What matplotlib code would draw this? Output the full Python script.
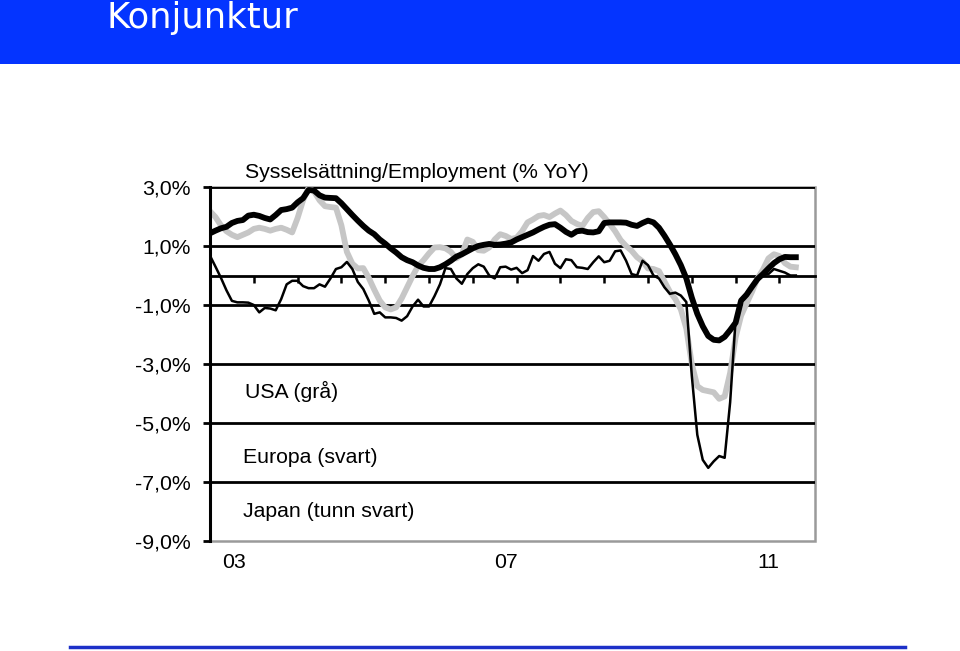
import matplotlib
matplotlib.use("Agg")
import matplotlib.pyplot as plt
import matplotlib.transforms as mtransforms
from matplotlib.patches import Rectangle

plt.rcParams['font.family'] = ['Liberation Sans', 'DejaVu Sans']

# monthly YoY employment growth, first point = start of 2003
europa = [1.43, 1.52, 1.60, 1.65, 1.78, 1.85, 1.88, 2.03, 2.06, 2.02,
          1.95, 1.90, 2.05, 2.22, 2.25, 2.30, 2.48, 2.62, 2.90, 2.88,
          2.72, 2.64, 2.63, 2.62, 2.45, 2.25, 2.05, 1.86, 1.68, 1.52,
          1.40, 1.22, 1.08, 0.92, 0.78, 0.62, 0.52, 0.45, 0.34, 0.26,
          0.22, 0.22, 0.28, 0.38, 0.50, 0.64, 0.72, 0.82, 0.92, 1.00,
          1.04, 1.07, 1.04, 1.05, 1.08, 1.12, 1.22, 1.30, 1.38, 1.46,
          1.56, 1.65, 1.72, 1.74, 1.62, 1.48, 1.38, 1.50, 1.52, 1.47,
          1.46, 1.50, 1.78, 1.80, 1.80, 1.80, 1.79, 1.72, 1.68, 1.78,
          1.86, 1.80, 1.62, 1.35, 1.05, 0.72, 0.35, -0.10, -0.75, -1.30,
          -1.72, -2.05, -2.18, -2.20, -2.08, -1.85, -1.60, -0.85, -0.65, -0.38,
          -0.12, 0.05, 0.24, 0.42, 0.55, 0.63, 0.62, 0.62]

usa = [2.18, 1.98, 1.70, 1.50, 1.38, 1.30, 1.38, 1.46, 1.58, 1.62,
       1.58, 1.52, 1.58, 1.62, 1.55, 1.46, 1.95, 2.55, 2.97, 2.85,
       2.55, 2.35, 2.32, 2.30, 1.70, 0.80, 0.40, 0.24, 0.25, -0.08,
       -0.48, -0.85, -1.08, -1.15, -1.08, -0.78, -0.40, -0.02, 0.32, 0.52,
       0.75, 0.95, 0.96, 0.92, 0.80, 0.58, 0.72, 1.22, 1.14, 0.86,
       0.84, 0.95, 1.22, 1.40, 1.34, 1.24, 1.28, 1.50, 1.80, 1.90,
       2.02, 2.05, 1.98, 2.10, 2.20, 2.05, 1.85, 1.75, 1.68, 1.95,
       2.15, 2.18, 1.98, 1.75, 1.50, 1.20, 1.00, 0.84, 0.62, 0.48,
       0.24, 0.22, 0.15, -0.20, -0.55, -0.80, -1.15, -1.80, -3.00, -3.75,
       -3.88, -3.92, -3.96, -4.18, -4.10, -3.30, -2.10, -1.36, -0.95, -0.55,
       -0.10, 0.20, 0.58, 0.72, 0.66, 0.42, 0.30, 0.28]

japan = [0.67, 0.30, -0.08, -0.50, -0.86, -0.91, -0.91, -0.92, -1.00, -1.25,
         -1.10, -1.12, -1.18, -0.80, -0.30, -0.18, -0.18, -0.36, -0.43, -0.43,
         -0.30, -0.38, -0.10, 0.22, 0.28, 0.46, 0.22, -0.22, -0.46, -0.85,
         -1.30, -1.25, -1.42, -1.42, -1.44, -1.53, -1.38, -1.05, -0.82, -1.05,
         -1.05, -0.70, -0.30, 0.25, 0.22, -0.10, -0.28, 0.05, 0.25, 0.38,
         0.30, 0.00, -0.10, 0.28, 0.30, 0.20, 0.26, 0.08, 0.18, 0.66,
         0.50, 0.73, 0.80, 0.40, 0.25, 0.55, 0.52, 0.28, 0.26, 0.22,
         0.45, 0.65, 0.45, 0.50, 0.82, 0.85, 0.50, 0.05, 0.00, 0.50,
         0.35, 0.00, -0.10, -0.40, -0.62, -0.58, -0.68, -0.90, -3.40, -5.40,
         -6.25, -6.52, -6.30, -6.12, -6.18, -4.30, -1.50, -0.90, -0.70, -0.42,
         -0.18, 0.02, 0.05, 0.22, 0.16, 0.10, 0.00, 0.00]

year_labels = ['03', '07', '11']
year_pos = [4.3, 54, 102]
y_ticks = [-9, -7, -5, -3, -1, 1, 3]

months = list(range(len(europa)))

fig = plt.figure(figsize=(9.6, 6.51), dpi=100)

# blue banner + bottom rule
fig.patches.append(Rectangle((0, 1 - 64 / 651), 1, 64 / 651, transform=fig.transFigure,
                             facecolor='#0434ff', edgecolor='none', zorder=0))
fig.add_artist(plt.Line2D([70 / 960, 905 / 960], [1 - 647 / 651] * 2, transform=fig.transFigure,
                          color='#1c30c8', lw=2.5))
fig.text(106 / 960, 1 - 28 / 651, 'Konjunktur', color='white', fontsize=25.5,
         family='DejaVu Sans', ha='left', va='baseline')

ax = fig.add_axes([210 / 960, 1 - 541 / 651, 605 / 960, 354 / 651])

for g in [3, 1, -1, -3, -5, -7]:
    ax.axhline(g, color='black', lw=2.0, zorder=1)

ax.plot(months, usa, color='#c6c6c6', lw=4.2, zorder=3, solid_joinstyle='round')
ax.plot(months, europa, color='black', lw=4.2, zorder=4, solid_joinstyle='round')
ax.plot(months, japan, color='black', lw=1.8, zorder=5)

ax.set_xlim(0, 110.5)
ax.set_ylim(-9, 3)

# gray plot-area frame
ax.add_patch(Rectangle((0, 0), 1, 1, transform=ax.transAxes, fill=False,
                       edgecolor='#9a9a9a', lw=1.8, zorder=0.5, clip_on=False))

ax.spines['top'].set_visible(False)
ax.spines['right'].set_visible(False)
ax.spines['left'].set_linewidth(2.2)
ax.spines['left'].set_zorder(6)
ax.spines['bottom'].set_position(('data', 0))
ax.spines['bottom'].set_linewidth(2.0)

ax.set_yticks(y_ticks)
ax.set_yticklabels([f'{v:.1f}%'.replace('.', ',') for v in y_ticks], fontsize=15.3)
ax.tick_params(axis='y', direction='out', length=5, width=2.0, pad=9)

ax.set_xticks(range(8, 110, 8))
ax.set_xticklabels([])
ax.tick_params(axis='x', direction='out', length=5, width=1.8)

trans = mtransforms.blended_transform_factory(ax.transData, ax.transAxes)
for pos, lab in zip(year_pos, year_labels):
    ax.text(pos, -0.062, lab, transform=trans, ha='center', va='center', fontsize=15.3)

ax.text(0.058, 0.421, 'USA (grå)', transform=ax.transAxes, fontsize=15.3, va='center')
ax.text(0.0545, 0.237, 'Europa (svart)', transform=ax.transAxes, fontsize=15.3, va='center')
ax.text(0.0545, 0.082, 'Japan (tunn svart)', transform=ax.transAxes, fontsize=15.3, va='center')

fig.text(245 / 960, 1 - 172 / 651, 'Sysselsättning/Employment (% YoY)', fontsize=15.3,
         ha='left', va='center')

fig.savefig('out.png', dpi=100)
